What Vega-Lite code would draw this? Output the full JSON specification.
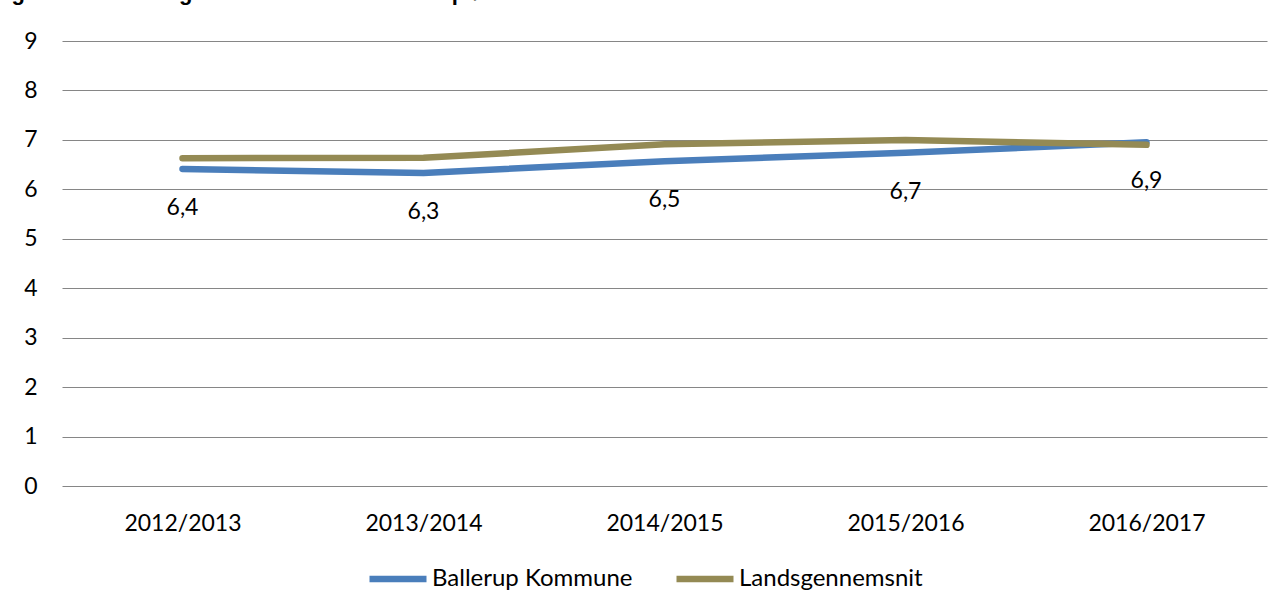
{
  "$schema": "https://vega.github.io/schema/vega-lite/v6.json",
  "autosize": "none",
  "width": 1205,
  "height": 445,
  "padding": {"left": 62, "top": 41, "right": 15, "bottom": 124},
  "background": "white",
  "title": {
    "text": "Figur 11: Karaktergennemsnit af de bundne prøver i dansk / 9. kl.",
    "anchor": "start",
    "frame": "group",
    "dx": -70,
    "offset": 8,
    "baseline": "alphabetic",
    "font": "Liberation Sans",
    "fontSize": 22,
    "fontWeight": "bold",
    "color": "#000000"
  },
  "data": {
    "values": [
      {"year": "2012/2013", "series": "Ballerup Kommune", "value": 6.41, "label": "6,4"},
      {"year": "2013/2014", "series": "Ballerup Kommune", "value": 6.33, "label": "6,3"},
      {"year": "2014/2015", "series": "Ballerup Kommune", "value": 6.57, "label": "6,5"},
      {"year": "2015/2016", "series": "Ballerup Kommune", "value": 6.74, "label": "6,7"},
      {"year": "2016/2017", "series": "Ballerup Kommune", "value": 6.95, "label": "6,9"},
      {"year": "2012/2013", "series": "Landsgennemsnit", "value": 6.63},
      {"year": "2013/2014", "series": "Landsgennemsnit", "value": 6.64},
      {"year": "2014/2015", "series": "Landsgennemsnit", "value": 6.91},
      {"year": "2015/2016", "series": "Landsgennemsnit", "value": 7.0},
      {"year": "2016/2017", "series": "Landsgennemsnit", "value": 6.9}
    ]
  },
  "encoding": {
    "x": {
      "field": "year",
      "type": "ordinal",
      "scale": {"type": "point", "padding": 0.5},
      "axis": {
        "title": null,
        "labelAngle": 0,
        "domain": false,
        "ticks": false,
        "labelPadding": 26,
        "labelFont": "Lato",
        "labelFontSize": 23,
        "labelColor": "#000000"
      }
    },
    "y": {
      "field": "value",
      "type": "quantitative",
      "scale": {"domain": [0, 9], "nice": false, "zero": true},
      "axis": {
        "title": null,
        "values": [0, 1, 2, 3, 4, 5, 6, 7, 8, 9],
        "domain": false,
        "ticks": false,
        "labelPadding": 25,
        "labelFont": "Lato",
        "labelFontSize": 23,
        "labelColor": "#000000",
        "gridColor": "#868686",
        "gridWidth": 1
      }
    }
  },
  "layer": [
    {
      "mark": {"type": "line", "strokeWidth": 6.5, "strokeCap": "round", "strokeJoin": "round"},
      "encoding": {
        "color": {
          "field": "series",
          "type": "nominal",
          "scale": {"domain": ["Ballerup Kommune", "Landsgennemsnit"], "range": ["#4a7ebb", "#948a54"]},
          "legend": {
            "title": null,
            "orient": "none",
            "legendX": 304,
            "legendY": 506,
            "direction": "horizontal",
            "symbolType": "stroke",
            "symbolSize": 3249,
            "symbolStrokeWidth": 6.5,
            "labelFont": "Lato",
            "labelFontSize": 24,
            "labelColor": "#000000",
            "labelOffset": 2,
            "labelLimit": 400,
            "columnPadding": 30
          }
        }
      }
    },
    {
      "transform": [{"filter": "datum.series === 'Ballerup Kommune'"}],
      "mark": {"type": "text", "dy": 39, "font": "Lato", "fontSize": 23, "color": "#000000"},
      "encoding": {"text": {"field": "label"}}
    }
  ],
  "config": {"view": {"stroke": null}}
}
